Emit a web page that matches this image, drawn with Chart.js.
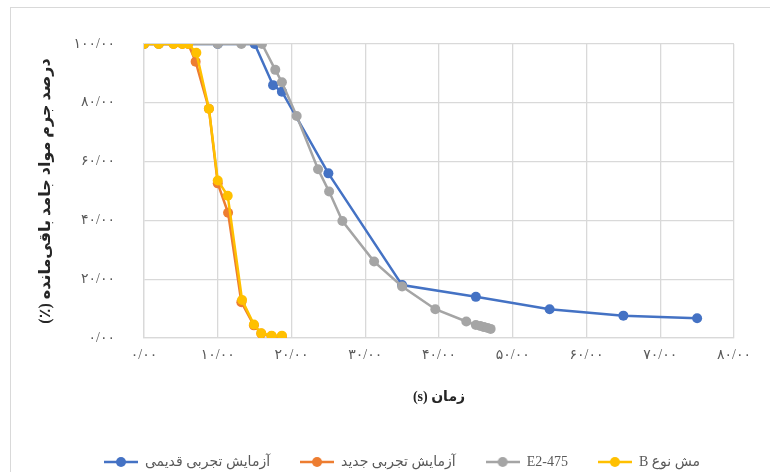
<!DOCTYPE html>
<html>
<head>
<meta charset="utf-8">
<script src="https://cdn.jsdelivr.net/npm/chart.js@4/dist/chart.umd.min.js"></script>
<style>
    html, body { margin: 0; padding: 0; background: #fff; overflow: hidden; }
    #wrap { position: relative; width: 770px; height: 472px; }
    #frame { position: absolute; left: 10px; top: 7px; width: 800px; height: 500px; border: 1px solid #d9d9d9; }
    #chart { position: absolute; left: 0; top: 0; }
</style>
</head>
<body>
<div id="wrap">
    <div id="frame"></div>
    <canvas id="chart" width="770" height="472"></canvas>
</div>
<script>
// آزمایش تجربی قدیمی
const oldTestX = [0, 10, 15, 17.5, 18.7, 25, 35, 45, 55, 65, 75];
const oldTestY = [100, 100, 100, 86, 83.8, 56, 18, 14, 9.8, 7.6, 6.7];

// آزمایش تجربی جدید
const newTestX = [0, 2, 4, 5.2, 6, 7, 8.8, 10, 11.4, 13.2, 14.9, 15.9, 17.3, 18.7];
const newTestY = [100, 100, 100, 100, 100, 94, 78, 52.6, 42.6, 12.2, 4.3, 1.5, 0.6, 0.5];

// E2-475
const e2X = [0, 2, 10, 13.2, 16, 17.8, 18.7, 20.7, 23.6, 25.1, 26.9, 31.2, 35, 39.5, 43.7, 45, 45.6, 46.1, 46.6, 47];
const e2Y = [100, 100, 100, 100, 100, 91.2, 87, 75.5, 57.4, 49.8, 39.8, 26, 17.5, 9.8, 5.6, 4.4, 4.1, 3.7, 3.4, 3.1];

// مش نوع B
const meshBX = [0, 2, 4, 5.2, 6, 7.1, 8.8, 10, 11.35, 13.3, 14.9, 15.9, 17.3, 18.7];
const meshBY = [100, 100, 100, 100, 100, 97, 78, 53.6, 48.4, 12.9, 4.6, 1.6, 0.8, 0.8];

const seriesNames = ['مش نوع B', 'E2-475', 'آزمایش تجربی جدید', 'آزمایش تجربی قدیمی'];
const seriesColors = ['#FFC000', '#A5A5A5', '#ED7D31', '#4472C4'];

const xTitle = 'زمان (s)';
const yTitle = 'درصد جرم مواد جامد باقی‌مانده (٪)';

const FONT = "'Liberation Serif', 'DejaVu Sans', serif";
const RLE = '\u202B', PDF = '\u202C';

function toPoints(xs, ys) {
    return xs.map((x, i) => ({ x: x, y: ys[i] }));
}

// اعداد فارسی با ممیز «/»
function persianNum(v) {
    const digits = '۰۱۲۳۴۵۶۷۸۹';
    const s = v.toFixed(2).replace('.', '/');
    return s.replace(/[0-9]/g, d => digits[+d]);
}

// نشانگر راهنما: خط با دایره در وسط
function legendMarker(color) {
    const c = document.createElement('canvas');
    c.width = 34;
    c.height = 12;
    const ctx = c.getContext('2d');
    ctx.strokeStyle = color;
    ctx.lineWidth = 2.5;
    ctx.beginPath();
    ctx.moveTo(0, 6);
    ctx.lineTo(34, 6);
    ctx.stroke();
    ctx.fillStyle = color;
    ctx.beginPath();
    ctx.arc(17, 6, 5, 0, Math.PI * 2);
    ctx.fill();
    return c;
}

const allX = [meshBX, e2X, newTestX, oldTestX];
const allY = [meshBY, e2Y, newTestY, oldTestY];

const datasets = seriesNames.map((name, i) => ({
    label: name,
    data: toPoints(allX[i], allY[i]),
    borderColor: seriesColors[i],
    backgroundColor: seriesColors[i],
    pointBackgroundColor: seriesColors[i],
    pointBorderColor: seriesColors[i],
    pointRadius: 5,
    pointBorderWidth: 0,
    borderWidth: 2.5,
    tension: 0,
    fill: false
}));

new Chart(document.getElementById('chart'), {
    type: 'scatter',
    data: { datasets: datasets },
    options: {
        responsive: false,
        animation: false,
        showLine: true,
        layout: { padding: { top: 44, right: 36, left: 70, bottom: -7 } },
        plugins: {
            tooltip: { enabled: false },
            legend: {
                position: 'bottom',
                reverse: true,
                labels: {
                    usePointStyle: true,
                    pointStyleWidth: 34,
                    padding: 30,
                    color: '#595959',
                    font: { family: FONT, size: 14 },
                    generateLabels: chart => chart.data.datasets.map((ds, i) => ({
                        text: RLE + ds.label + PDF,
                        pointStyle: legendMarker(ds.borderColor),
                        fillStyle: ds.borderColor,
                        strokeStyle: ds.borderColor,
                        fontColor: '#595959',
                        lineWidth: 0,
                        hidden: false,
                        datasetIndex: i
                    }))
                }
            }
        },
        scales: {
            x: {
                type: 'linear',
                min: 0,
                max: 80,
                afterFit: scale => { scale.height = 87; },
                ticks: {
                    stepSize: 10,
                    padding: 9,
                    color: '#595959',
                    font: { family: FONT, size: 14 },
                    maxRotation: 0,
                    callback: v => persianNum(v)
                },
                grid: { color: '#d9d9d9', lineWidth: 1.3, drawTicks: false },
                border: { color: '#d9d9d9', width: 1.3 },
                title: {
                    display: true,
                    text: RLE + xTitle + PDF,
                    color: '#262626',
                    padding: { top: 0, bottom: 19 },
                    font: { family: FONT, size: 14, weight: 'bold' }
                }
            },
            y: {
                min: 0,
                max: 100,
                afterFit: scale => { scale.width = 74; },
                ticks: {
                    stepSize: 20,
                    padding: 29,
                    color: '#595959',
                    font: { family: FONT, size: 14 },
                    callback: v => persianNum(v)
                },
                grid: { color: '#d9d9d9', lineWidth: 1.3, drawTicks: false },
                border: { color: '#d9d9d9', width: 1.3 },
                title: {
                    display: true,
                    text: RLE + yTitle + PDF,
                    color: '#262626',
                    padding: { top: -34, bottom: 0 },
                    font: { family: FONT, size: 16, weight: 'bold' }
                }
            }
        }
    }
});
</script>
</body>
</html>
